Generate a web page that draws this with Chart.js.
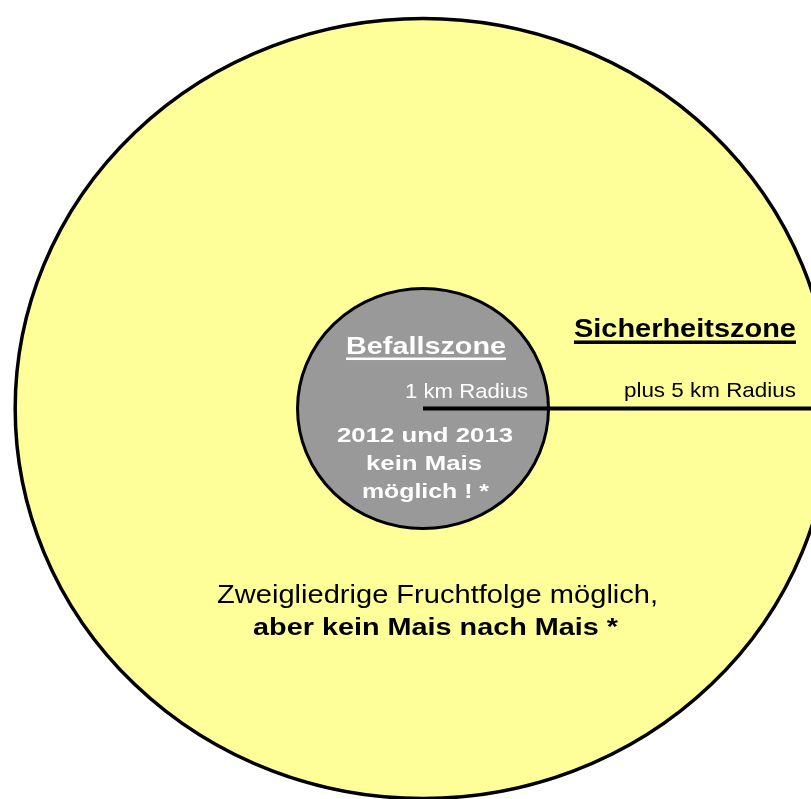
<!DOCTYPE html>
<html>
<head>
<meta charset="utf-8">
<script src="https://cdn.jsdelivr.net/npm/chart.js@4.4.0/dist/chart.umd.min.js"></script>
<style>
  html, body { margin: 0; padding: 0; background: #ffffff; }
  #wrap { width: 811px; height: 799px; position: relative; }
</style>
</head>
<body>
<div id="wrap"><canvas id="zones"></canvas></div>
<script>
// zones, drawn outermost first (radius in diagram units, not to scale)
const zoneNames = ['Sicherheitszone', 'Befallszone'];
const zoneRadius = [3.25, 1.0];
const zoneFill = ['#ffff99', '#999999'];

// radius marker from the centre outwards
const radiusLineX = [0, 3.25];
const radiusLineY = [0, 0];

const fontFamily = "'Liberation Sans', Arial, Helvetica, sans-serif";

// text labels: anchor in data units, width is the drawn (stretched) width in px
const labels = [
    { text: 'Befallszone', x: 0.024, y: 0.454, size: 24, bold: true, color: '#fff', align: 'center', width: 160, underline: 2.5 },
    { text: '1 km Radius', x: 0.837, y: 0.0855, size: 21, bold: false, color: '#fff', align: 'right', width: 123 },
    { text: '2012 und 2013', x: 0.016, y: -0.279, size: 21, bold: true, color: '#fff', align: 'center', width: 176 },
    { text: 'kein Mais', x: 0.008, y: -0.5125, size: 21, bold: true, color: '#fff', align: 'center', width: 116 },
    { text: 'möglich ! *', x: 0.02, y: -0.746, size: 21, bold: true, color: '#fff', align: 'center', width: 127 },
    { text: 'Sicherheitszone', x: 2.972, y: 0.596, size: 25, bold: true, color: '#000', align: 'right', width: 222, underline: 3.5 },
    { text: 'plus 5 km Radius', x: 2.972, y: 0.096, size: 21, bold: false, color: '#000', align: 'right', width: 172 },
    { text: 'Zweigliedrige Fruchtfolge möglich,', x: 0.116, y: -1.623, size: 25, bold: false, color: '#000', align: 'center', width: 441 },
    { text: 'aber kein Mais nach Mais *', x: 0.1, y: -1.8875, size: 23, bold: true, color: '#000', align: 'center', width: 365 }
];

const zonePlugin = {
    id: 'zones',
    beforeDatasetsDraw(chart) {
        const ctx = chart.ctx;
        const xs = chart.scales.x, ys = chart.scales.y;
        const cx = xs.getPixelForValue(0), cy = ys.getPixelForValue(0);
        zoneRadius.forEach((r, i) => {
            const rx = xs.getPixelForValue(r) - cx;
            const ry = cy - ys.getPixelForValue(r);
            ctx.save();
            ctx.beginPath();
            ctx.ellipse(cx, cy, rx, ry, 0, 0, Math.PI * 2);
            ctx.fillStyle = zoneFill[i];
            ctx.fill();
            ctx.lineWidth = i === 0 ? 3.5 : 3;
            ctx.strokeStyle = '#000';
            ctx.stroke();
            ctx.restore();
        });
    },
    afterDatasetsDraw(chart) {
        const ctx = chart.ctx;
        const xs = chart.scales.x, ys = chart.scales.y;
        labels.forEach(l => {
            const px = xs.getPixelForValue(l.x);
            const py = ys.getPixelForValue(l.y);
            ctx.save();
            ctx.font = (l.bold ? 'bold ' : '') + l.size + 'px ' + fontFamily;
            const w = ctx.measureText(l.text).width;
            const sx = l.width / w;
            let left = px;
            if (l.align === 'center') left = px - l.width / 2;
            if (l.align === 'right') left = px - l.width;
            ctx.translate(left, py);
            ctx.scale(sx, 1);
            ctx.fillStyle = l.color;
            ctx.textAlign = 'left';
            ctx.textBaseline = 'alphabetic';
            ctx.fillText(l.text, 0, 0);
            ctx.restore();
            if (l.underline) {
                ctx.save();
                ctx.fillStyle = l.color;
                ctx.fillRect(left, py + 3.5, l.width, l.underline);
                ctx.restore();
            }
        });
    }
};

new Chart(document.getElementById('zones').getContext('2d'), {
    type: 'scatter',
    data: {
        datasets: [{
            label: zoneNames[1] + ' Radius',
            data: radiusLineX.map((x, i) => ({ x: x, y: radiusLineY[i] })),
            showLine: true,
            borderColor: '#000',
            borderWidth: 4,
            pointRadius: 0,
            borderCapStyle: 'butt'
        }]
    },
    options: {
        responsive: true,
        maintainAspectRatio: false,
        animation: false,
        layout: { padding: 0 },
        plugins: {
            legend: { display: false },
            tooltip: { enabled: false }
        },
        scales: {
            x: { type: 'linear', min: -3.371, max: 3.092, display: false },
            y: { type: 'linear', min: -3.254, max: 3.404, display: false }
        }
    },
    plugins: [zonePlugin]
});
</script>
</body>
</html>
